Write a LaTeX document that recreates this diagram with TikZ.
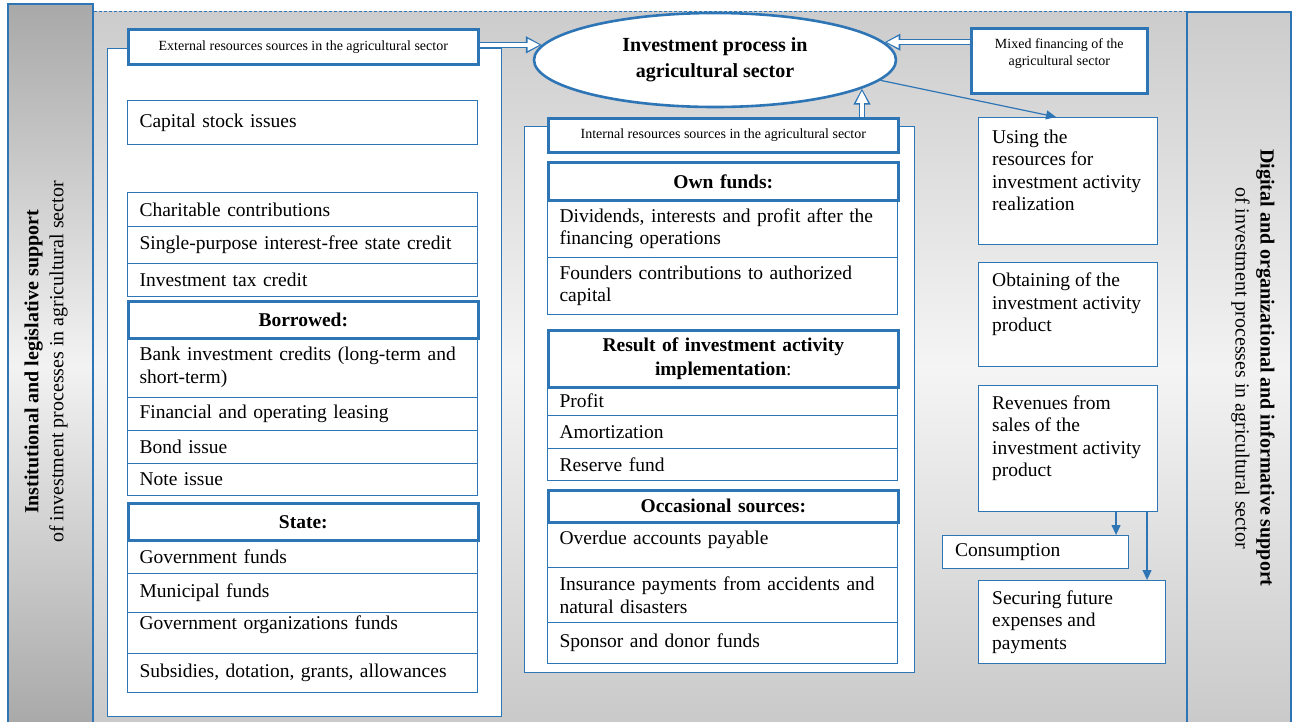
\documentclass[tikz,border=0pt]{standalone}
\usepackage{fontspec}
\setmainfont{Liberation Serif}
\usepackage{tikz}
\usetikzlibrary{arrows.meta, positioning, shapes.geometric}

\definecolor{lineblue}{RGB}{46,117,182}
\newcommand{\txtmain}{\fontsize{19.5}{22.5}\selectfont}
\newcommand{\txtsmall}{\fontsize{14}{17}\selectfont}
\newcommand{\txthead}{\fontsize{19.5}{23.5}\selectfont\bfseries}

\tikzset{
  rowbox/.style={draw=lineblue, line width=1.1pt, anchor=north west, text width=326pt,
    inner xsep=12pt, inner ysep=0pt, align=left, font=\txtmain},
  headbox/.style={rowbox, line width=2.6pt, align=center, font=\txthead},
  srcbox/.style={draw=lineblue, line width=2.6pt, fill=white, anchor=north west,
    minimum width=350pt, inner sep=0pt, font=\txtsmall},
  flowbox/.style={draw=lineblue, line width=1.1pt, fill=white, anchor=north west,
    minimum width=179pt},
  flowtext/.style={align=left, inner sep=0pt, font=\txtmain},
  bartext/.style={align=center, inner sep=0pt, font=\fontsize{20}{25}\selectfont},
  hollow/.style={draw=lineblue, line width=6pt, -{Triangle[length=16pt,width=16pt]},
    postaction={draw=white, line width=3.4pt, -{Triangle[length=12pt,width=11pt]}, shorten >=2.2pt}},
  flowarrow/.style={draw=lineblue, line width=1.2pt, -{Triangle[length=10pt,width=9pt]}}
}

\begin{document}
\begin{tikzpicture}[x=1pt, y=-1pt]
  \useasboundingbox (0,0) rectangle (1293,721);
  % Background
  \fill[top color=gray!40, bottom color=gray!42, middle color=gray!8] (94,11) rectangle (1187,721);
  \draw[lineblue, line width=0.8pt, dash pattern=on 3pt off 2pt] (94,11) -- (1187,11);
  % Side bars
  \draw[lineblue, line width=2pt, top color=gray!68, bottom color=gray!68, middle color=gray!10] (8,4) rectangle (93,726);
  \draw[lineblue, line width=2pt, top color=gray!40, bottom color=gray!42, middle color=gray!10] (1187,12) rectangle (1291,726);
  \node[bartext, rotate=90] (legal) at (46,362)
    {\textbf{Institutional and legislative support}\\of investment processes in agricultural sector};
  \node[bartext, rotate=-90] (digital) at (1253,368)
    {\textbf{Digital and organizational and informative support}\\of investment processes in agricultural sector};

  % Containers
  \draw[lineblue, line width=1pt, fill=white] (107,48) rectangle (501,716);
  \draw[lineblue, line width=1pt, fill=white] (524,126) rectangle (914,672);

  % External sources
  \node[srcbox, minimum height=35] (ext) at (127,28) {External resources sources in the agricultural sector};
  \node[rowbox, minimum height=44] (stock) at (127,100) {Capital stock issues};
  \node[rowbox, minimum height=34] (charity) at (127,192) {Charitable contributions};
  \node[rowbox, minimum height=37] (credit) at (127,226) {Single-purpose interest-free state credit};
  \node[rowbox, minimum height=33] (taxcredit) at (127,263) {Investment tax credit};
  \node[rowbox, minimum height=60] (bank) at (127,337) {Bank investment credits (long-term and\\short-term)};
  \node[rowbox, minimum height=33] (leasing) at (127,397) {Financial and operating leasing};
  \node[rowbox, minimum height=33] (bond) at (127,430) {Bond issue};
  \node[rowbox, minimum height=32] (note) at (127,463) {Note issue};
  \node[rowbox, minimum height=34] (govfunds) at (127,539) {Government funds};
  \node[rowbox, minimum height=39] (munfunds) at (127,573) {Municipal funds};
  \node[rowbox, minimum height=41, text depth=20pt] (orgfunds) at (127,612) {Government organizations funds};
  \node[rowbox, minimum height=39] (subsidies) at (127,653) {Subsidies, dotation, grants, allowances};
  \node[headbox, minimum height=37] (borrowed) at (127,300) {Borrowed:};
  \node[headbox, minimum height=37] (state) at (127,502) {State:};

  % Internal sources
  \node[srcbox, minimum height=34] (int) at (547,117) {Internal resources sources in the agricultural sector};
  \node[rowbox, minimum height=58] (dividends) at (547,199) {Dividends, interests and profit after the\\financing operations};
  \node[rowbox, minimum height=57] (founders) at (547,257) {Founders contributions to authorized\\capital};
  \node[rowbox, minimum height=29] (profit) at (547,386) {Profit};
  \node[rowbox, minimum height=33] (amort) at (547,415) {Amortization};
  \node[rowbox, minimum height=32] (reserve) at (547,448) {Reserve fund};
  \node[rowbox, minimum height=46, text depth=13pt] (overdue) at (547,521) {Overdue accounts payable};
  \node[rowbox, minimum height=55] (insurance) at (547,567) {Insurance payments from accidents and\\natural disasters};
  \node[rowbox, minimum height=41] (sponsor) at (547,622) {Sponsor and donor funds};
  \node[headbox, minimum height=38] (own) at (547,161) {Own funds:};
  \node[headbox, minimum height=57] (result) at (547,329) {Result of investment activity\\implementation\textmd{:}};
  \node[headbox, minimum height=32] (occasional) at (547,489) {Occasional sources:};

  % Investment process
  \node[ellipse, draw=lineblue, line width=2.6pt, fill=white, minimum width=362, minimum height=94,
    inner sep=0pt, align=center, font=\fontsize{20}{26}\selectfont\bfseries] (proc) at (715,60)
    {Investment process in\\agricultural sector};
  \node[srcbox, minimum width=176, minimum height=65] (mix) at (970,27) {};
  \node[font=\txtsmall, align=center, inner sep=0pt, below=11pt of mix.north] (mixtxt)
    {Mixed financing of the\\agricultural sector};

  % Use of resources
  \node[flowbox, minimum height=127] (use) at (978,117) {};
  \node[flowtext, below right=12.5pt and 14pt of use.north west] (usetxt)
    {Using the\\resources for\\investment activity\\realization};
  \node[flowbox, minimum height=104] (obtain) at (978,262) {};
  \node[flowtext, below right=11pt and 14pt of obtain.north west] (obtaintxt)
    {Obtaining of the\\investment activity\\product};
  \node[flowbox, minimum height=126] (rev) at (978,385) {};
  \node[flowtext, below right=10.5pt and 14pt of rev.north west] (revtxt)
    {Revenues from\\sales of the\\investment activity\\product};
  \node[flowbox, minimum width=186, minimum height=33] (cons) at (942,535) {};
  \node[flowtext, right=13pt of cons.west] (constxt) {Consumption};
  \node[flowbox, minimum width=187, minimum height=83] (secure) at (978,580) {};
  \node[flowtext, below right=10.5pt and 14pt of secure.north west] (securetxt)
    {Securing future\\expenses and\\payments};

  % Arrows
  \draw[hollow] (ext.east |- proc.175) -- (proc.175);
  \draw[hollow] (mix.west |- proc.6) -- (proc.6);
  \draw[hollow] (int.north -| proc.349) -- (proc.349);
  \draw[flowarrow] (proc.353) -- ([xshift=-12pt]use.north);
  \draw[flowarrow] ([xshift=48pt]rev.south) -- ([xshift=48pt]rev.south |- cons.north);
  \draw[flowarrow] ([xshift=79pt]rev.south) -- ([xshift=79pt]rev.south |- secure.north);
\end{tikzpicture}
\end{document}
